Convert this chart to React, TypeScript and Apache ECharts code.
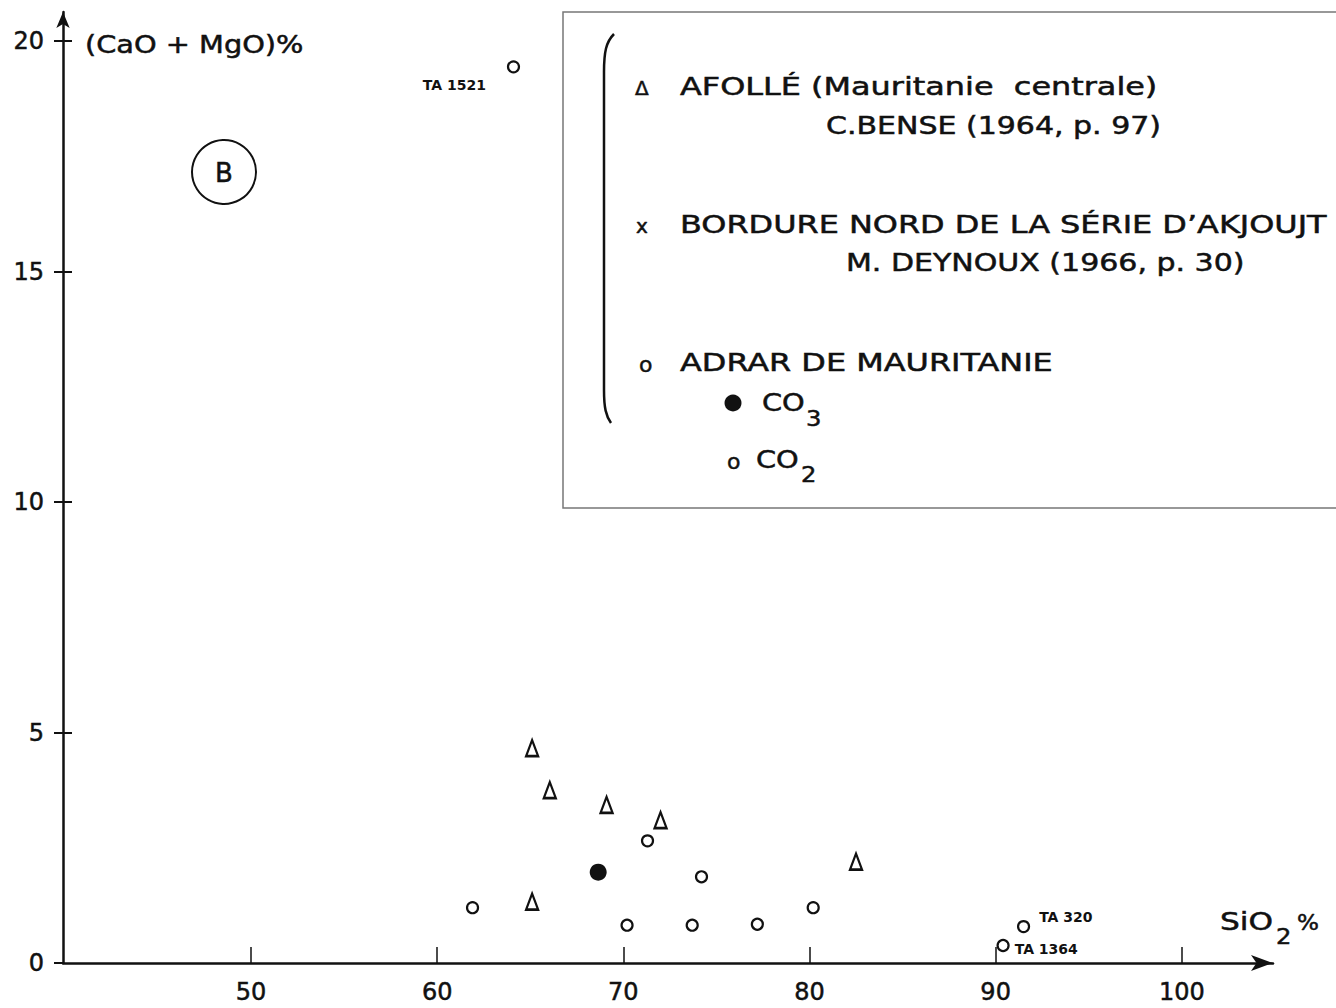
import React, { useEffect, useRef } from "react";
import * as echarts from "echarts";

// ---- data ----
const xTickValues = [50, 60, 70, 80, 90, 100];
const yTickValues = [0, 5, 10, 15, 20];
const yInnerTickValues = [5, 10, 15, 20];

// AFOLLÉ (Mauritanie centrale) – triangles
const afolleSiO2 = [65.1, 66.05, 69.1, 72.0, 82.5, 65.1];
const afolleCaOMgO = [4.66, 3.75, 3.43, 3.1, 2.2, 1.33];

// ADRAR DE MAURITANIE – CO3 (filled)
const co3SiO2 = [68.65];
const co3CaOMgO = [1.97];

// ADRAR DE MAURITANIE – CO2 (open circles)
const co2SiO2 = [61.9, 70.2, 71.3, 73.7, 74.2, 77.2, 80.2, 64.1, 91.5, 90.4];
const co2CaOMgO = [1.2, 0.82, 2.65, 0.82, 1.87, 0.84, 1.2, 19.44, 0.79, 0.38];
const co2Names = ["", "", "", "", "", "", "", "TA 1521", "TA 320", "TA 1364"];

// ---- styling ----
const FONT = "DejaVu Sans";
const INK = "#111111";
const TEXT_STROKE = 0.5;
const labelPlacement: Record<string, { position: string; offset: number[] }> = {
  "TA 1521": { position: "left", offset: [-16, 18] },
  "TA 320": { position: "right", offset: [4, -10] },
  "TA 1364": { position: "right", offset: [0, 4] },
};

const BRACKET_D =
  "M 614 34 C 606 42 604 52 604 72 L 604 390 C 604 408 606 416 611 423";

let registered = false;
function registerShapes() {
  if (registered) return;
  registered = true;
  echarts.graphic.registerShape(
    "legendBracket",
    echarts.graphic.extendPath(BRACKET_D, {}) as any
  );
}

function txt(
  text: string,
  x: number,
  y: number,
  fontSize: number,
  scaleX = 1,
  extra: any = {}
) {
  return {
    type: "text",
    x,
    y,
    scaleX,
    style: {
      text,
      fontSize,
      fontFamily: FONT,
      fill: INK,
      stroke: INK,
      lineWidth: TEXT_STROKE,
      align: "left",
      verticalAlign: "middle",
      ...extra,
    },
  };
}

export default function App() {
  const ref = useRef<HTMLDivElement>(null);

  useEffect(() => {
    if (!ref.current) return;
    registerShapes();
    const chart = echarts.init(ref.current, undefined, { renderer: "svg" });

    const LS = 1.33; // legend horizontal stretch
    const axisLabelStyle = {
      fontSize: 24,
      fontFamily: FONT,
      color: INK,
      textBorderColor: INK,
      textBorderWidth: TEXT_STROKE,
    };

    const option: any = {
      animation: false,
      backgroundColor: "#ffffff",
      grid: { left: 63, right: 63, top: 12, bottom: 45, containLabel: false },
      xAxis: {
        type: "value",
        min: 39.9,
        max: 104.9,
        splitLine: { show: false },
        axisLine: {
          onZero: false,
          lineStyle: { color: INK, width: 2.5 },
          symbol: ["none", "arrow"],
          symbolSize: [12, 22],
        },
        axisTick: {
          show: true,
          inside: true,
          length: 16,
          customValues: xTickValues,
          lineStyle: { color: INK, width: 1.5 },
        },
        axisLabel: {
          customValues: xTickValues,
          margin: 17,
          ...axisLabelStyle,
        },
      },
      yAxis: [
        {
          type: "value",
          min: 0,
          max: 20.63,
          splitLine: { show: false },
          axisLine: {
            lineStyle: { color: INK, width: 2.5 },
            symbol: ["none", "arrow"],
            symbolSize: [10, 16],
          },
          axisTick: {
            show: true,
            inside: false,
            length: 9,
            customValues: yTickValues,
            lineStyle: { color: INK, width: 2 },
          },
          axisLabel: {
            customValues: yTickValues,
            margin: 19,
            ...axisLabelStyle,
          },
        },
        {
          type: "value",
          position: "left",
          min: 0,
          max: 20.63,
          splitLine: { show: false },
          axisLine: { show: false },
          axisTick: {
            show: true,
            inside: true,
            length: 9,
            customValues: yInnerTickValues,
            lineStyle: { color: INK, width: 2 },
          },
          axisLabel: { show: false },
        },
      ],
      series: [
        {
          name: "AFOLLÉ (Mauritanie centrale)",
          type: "scatter",
          symbol: "triangle",
          symbolSize: [12, 16],
          itemStyle: {
            color: "#ffffff",
            borderColor: INK,
            borderWidth: 2.4,
            opacity: 1,
          },
          data: afolleSiO2.map((x, i) => [x, afolleCaOMgO[i]]),
        },
        {
          name: "CO3",
          type: "scatter",
          symbol: "circle",
          symbolSize: 17,
          itemStyle: { color: INK, opacity: 1 },
          data: co3SiO2.map((x, i) => [x, co3CaOMgO[i]]),
        },
        {
          name: "CO2",
          type: "scatter",
          symbol: "circle",
          symbolSize: 11,
          itemStyle: {
            color: "#ffffff",
            borderColor: INK,
            borderWidth: 2.2,
            opacity: 1,
          },
          data: co2SiO2.map((x, i) => {
            const name = co2Names[i];
            const item: any = { value: [x, co2CaOMgO[i]], name };
            if (name) {
              const p = labelPlacement[name];
              item.label = {
                show: true,
                formatter: name,
                position: p.position,
                offset: p.offset,
                fontSize: 14,
                fontWeight: "bold",
                fontFamily: FONT,
                color: INK,
              };
            }
            return item;
          }),
        },
      ],
      graphic: [
        // axis titles
        txt("(CaO + MgO)%", 85, 44, 24, 1.2),
        txt("SiO", 1220, 922, 24, 1.3),
        txt("2", 1276, 936, 22, 1.1),
        txt("%", 1297, 922, 22, 1.05),
        // B marker
        {
          type: "circle",
          shape: { cx: 224, cy: 172, r: 32 },
          style: { fill: "none", stroke: INK, lineWidth: 2 },
        },
        {
          type: "text",
          x: 224,
          y: 173,
          style: {
            text: "B",
            fontSize: 26,
            fontFamily: FONT,
            fill: INK,
            stroke: INK,
            lineWidth: 0.5,
            align: "center",
            verticalAlign: "middle",
          },
        },
        // legend box
        {
          type: "rect",
          shape: { x: 563, y: 12, width: 800, height: 496 },
          style: { fill: "none", stroke: "#777777", lineWidth: 1.5 },
        },
        {
          type: "legendBracket",
          x: 0,
          y: 0,
          style: { fill: "none", stroke: INK, lineWidth: 2.5 },
        },
        txt("Δ", 635, 88, 20, 1),
        txt("AFOLLÉ (Mauritanie  centrale)", 680, 87, 24, LS),
        txt("C.BENSE (1964, p. 97)", 826, 126, 24, LS * 0.94),
        txt("x", 636, 226, 20, 1),
        txt("BORDURE NORD DE LA SÉRIE D’AKJOUJT", 680, 225, 24, LS),
        txt("M. DEYNOUX (1966, p. 30)", 846, 263, 24, LS * 0.94),
        txt("o", 639, 364, 22, 1),
        txt("ADRAR DE MAURITANIE", 680, 363, 24, LS),
        {
          type: "circle",
          shape: { cx: 733, cy: 403, r: 8.5 },
          style: { fill: INK, stroke: "none" },
        },
        txt("CO", 762, 402, 24, 1.2),
        txt("3", 806, 418, 22, 1.1),
        txt("o", 727, 461, 22, 1),
        txt("CO", 756, 459, 24, 1.2),
        txt("2", 801, 474, 22, 1.1),
      ],
    };

    chart.setOption(option);
    return () => chart.dispose();
  }, []);

  return (
    <div
      ref={ref}
      style={{
        position: "fixed",
        left: 0,
        top: 0,
        width: 1336,
        height: 1008,
        background: "#ffffff",
      }}
    />
  );
}
